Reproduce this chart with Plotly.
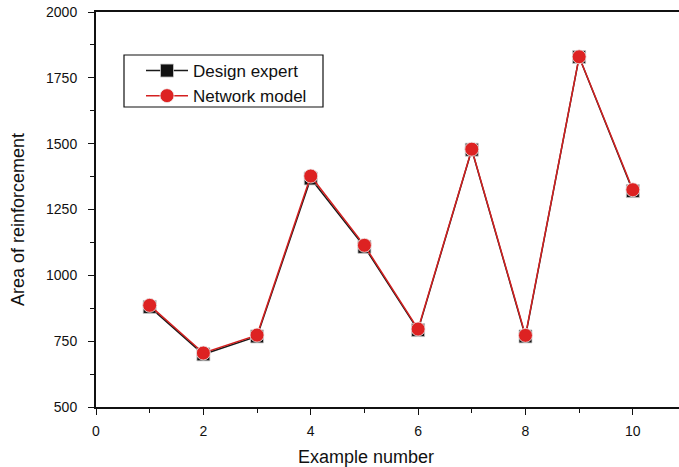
import plotly.graph_objects as go

examples = [1, 2, 3, 4, 5, 6, 7, 8, 9, 10]
design_expert = [880, 700, 768, 1368, 1108, 792, 1477, 768, 1829, 1320]
network_model = [886, 705, 773, 1377, 1114, 796, 1479, 772, 1830, 1325]

fig = go.Figure()
fig.add_trace(go.Scatter(
    x=examples, y=design_expert, name="Design expert", mode="lines+markers",
    line=dict(color="#1a1a1a", width=1.5),
    marker=dict(symbol="square", size=13, color="#111111", line=dict(color="#cccccc", width=0.8)),
))
fig.add_trace(go.Scatter(
    x=examples, y=network_model, name="Network model", mode="lines+markers",
    line=dict(color="#d42020", width=1.5),
    marker=dict(symbol="circle", size=14, color="#dd2222", line=dict(color="#f0f0f0", width=0.8)),
))

font = "Liberation Sans, Arial, sans-serif"

# pixel -> paper helpers (plot area: x 96..679, y 12..407)
def px(x):
    return (x - 96) / 583.0

def py(y):
    return (407 - y) / 395.0

fig.update_layout(
    width=679, height=467,
    margin=dict(l=96, r=0, t=12, b=60),
    paper_bgcolor="white", plot_bgcolor="white",
    font=dict(family=font, color="#111111"),
    showlegend=True,
    legend=dict(x=px(141), y=py(53), xanchor="left", yanchor="top",
                borderwidth=0, bgcolor="rgba(0,0,0,0)", itemwidth=42,
                font=dict(size=17, family=font), tracegroupgap=0),
    xaxis=dict(range=[0, 10.86], tickvals=[0, 2, 4, 6, 8, 10],
               showgrid=False, zeroline=False, showline=True, linecolor="#111111",
               linewidth=2, mirror=True, ticks="outside", ticklen=6, tickwidth=1.2,
               tickcolor="#111111", tickfont=dict(size=14), ticklabelstandoff=4,
               minor=dict(dtick=1, tick0=0, ticks="outside", ticklen=4, tickcolor="#111111", tickwidth=1.2)),
    yaxis=dict(range=[500, 2000], tickvals=[500, 750, 1000, 1250, 1500, 1750, 2000],
               showgrid=False, zeroline=False, showline=True, linecolor="#111111",
               linewidth=2, mirror=False, ticks="outside", ticklen=6, tickwidth=1.2,
               tickcolor="#111111", tickfont=dict(size=14), ticklabelstandoff=8,
               minor=dict(dtick=125, tick0=500, ticks="outside", ticklen=4, tickcolor="#111111", tickwidth=1.2)),
    shapes=[dict(type="rect", xref="paper", yref="paper",
                 x0=px(124), x1=px(323), y0=py(107), y1=py(55),
                 line=dict(color="#111111", width=1.2), fillcolor="rgba(0,0,0,0)")],
    annotations=[
        dict(text="Example number", xref="paper", yref="paper", x=px(366), y=py(457),
             xanchor="center", yanchor="middle", showarrow=False, font=dict(size=18)),
        dict(text="Area of reinforcement", xref="paper", yref="paper", x=px(18), y=py(220),
             xanchor="center", yanchor="middle", showarrow=False, textangle=-90, font=dict(size=18)),
    ],
)

fig.write_html("out.html")
